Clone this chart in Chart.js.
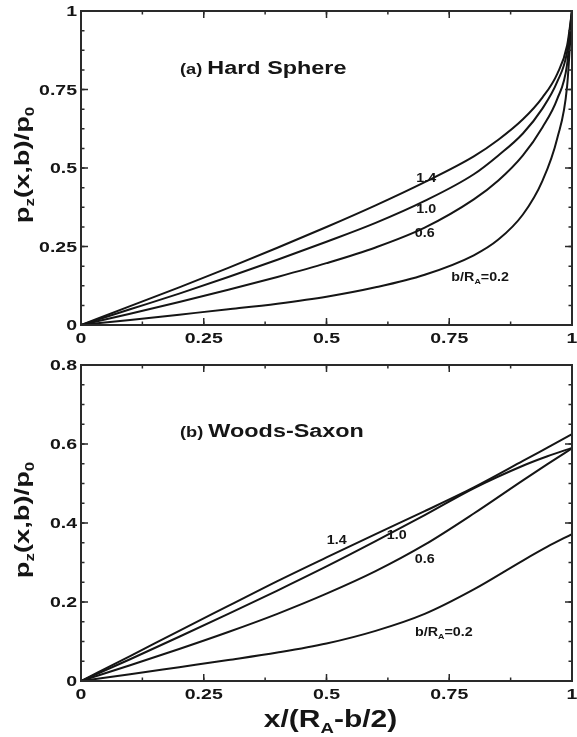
<!DOCTYPE html>
<html><head><meta charset="utf-8">
<script src="https://cdn.jsdelivr.net/npm/chart.js@4"></script>
<style>
html,body{margin:0;padding:0;background:#fff;}
#wrap{position:relative;width:577px;height:737px;overflow:hidden;}
.panel{position:absolute;left:0;width:577px;}
canvas{display:block;}
</style></head><body>
<div id="wrap">
<div class="panel" style="top:0;height:345px"><canvas id="ca" width="577" height="345"></canvas></div>
<div class="panel" style="top:345px;height:392px"><canvas id="cb" width="577" height="392"></canvas></div>
</div>
<script>
// ---------- data ----------
// (a) Hard Sphere
const xHS   = [0, 0.1, 0.2, 0.3, 0.4, 0.5, 0.6, 0.7, 0.8, 0.85, 0.9, 0.94, 0.97, 0.99, 1];
const hs14  = [0, 0.06, 0.12, 0.182, 0.246, 0.312, 0.381, 0.455, 0.537, 0.59, 0.655, 0.725, 0.80, 0.89, 1];
const hs10  = [0, 0.05, 0.10, 0.153, 0.208, 0.265, 0.325, 0.395, 0.48, 0.54, 0.61, 0.69, 0.775, 0.87, 1];
const hs06  = [0, 0.036, 0.073, 0.112, 0.153, 0.197, 0.247, 0.31, 0.40, 0.46, 0.54, 0.63, 0.72, 0.83, 1];
const hs02  = [0, 0.016, 0.033, 0.05, 0.068, 0.09, 0.12, 0.16, 0.222, 0.272, 0.352, 0.46, 0.595, 0.76, 1];
// (b) Woods-Saxon
const xWS   = [0, 0.1, 0.2, 0.3, 0.4, 0.5, 0.6, 0.7, 0.8, 0.9, 0.95, 1];
const ws14  = [0, 0.063, 0.127, 0.19, 0.253, 0.313, 0.372, 0.43, 0.49, 0.557, 0.591, 0.625];
const ws10  = [0, 0.055, 0.112, 0.17, 0.229, 0.29, 0.354, 0.42, 0.488, 0.545, 0.569, 0.59];
const ws06  = [0, 0.04, 0.081, 0.124, 0.17, 0.221, 0.278, 0.345, 0.424, 0.508, 0.549, 0.589];
const ws02  = [0, 0.017, 0.035, 0.053, 0.072, 0.095, 0.127, 0.17, 0.232, 0.305, 0.34, 0.372];
// tick labels
const xTickLabels  = ['0', '0.25', '0.5', '0.75', '1'];
const yTickLabelsA = ['0', '0.25', '0.5', '0.75', '1'];
const yTickLabelsB = ['0', '0.2', '0.4', '0.6', '0.8'];
// curve labels [text segments, x, y]
const curveLabelsA = [
  [[['1.4']], 0.703, 0.470],
  [[['1.0']], 0.703, 0.373],
  [[['0.6']], 0.700, 0.295],
  [[['b/R'], ['A', 1], ['=0.2']], 0.813, 0.156]
];
const curveLabelsB = [
  [[['1.4']], 0.521, 0.358],
  [[['1.0']], 0.643, 0.372],
  [[['0.6']], 0.700, 0.311],
  [[['b/R'], ['A', 1], ['=0.2']], 0.739, 0.127]
];

// ---------- drawing helpers ----------
const FONT = '"Liberation Sans", Arial, Helvetica, sans-serif';
const INK = '#151515';
function drawRich(ctx, segs, x, y, size, sx, align, rot) {
  ctx.save();
  ctx.translate(x, y);
  if (rot) ctx.rotate(rot);
  ctx.scale(sx, 1);
  const parts = [];
  let total = 0;
  for (const s of segs) {
    const t = s[0], sub = s[1] === 1, small = s[1] === 2;
    const fs = sub ? size * 0.62 : (small ? size * 0.78 : size);
    ctx.font = 'bold ' + fs + 'px ' + FONT;
    const w = ctx.measureText(t).width;
    parts.push({ t, fs, w, dy: sub ? size * 0.26 : 0 });
    total += w;
  }
  let cx = align === 'center' ? -total / 2 : (align === 'right' ? -total : 0);
  ctx.textAlign = 'left';
  ctx.textBaseline = 'alphabetic';
  ctx.fillStyle = INK;
  for (const p of parts) {
    ctx.font = 'bold ' + p.fs + 'px ' + FONT;
    ctx.fillText(p.t, cx, p.dy);
    cx += p.w;
  }
  ctx.restore();
}

function makeDecor(cfg) {
  return {
    id: 'decor',
    afterDraw(chart) {
      const ctx = chart.ctx, a = chart.chartArea;
      const xs = chart.scales.x, ys = chart.scales.y;
      ctx.save();
      ctx.strokeStyle = '#2a2a2a';
      ctx.lineWidth = 1.5;
      const tick = (px, isX, len) => {
        ctx.beginPath();
        if (isX) {
          ctx.moveTo(px, a.bottom); ctx.lineTo(px, a.bottom - len);
          ctx.moveTo(px, a.top); ctx.lineTo(px, a.top + len);
        } else {
          ctx.moveTo(a.left, px); ctx.lineTo(a.left + len, px);
          ctx.moveTo(a.right, px); ctx.lineTo(a.right - len, px);
        }
        ctx.stroke();
      };
      for (let v = xs.min; v <= xs.max + 1e-9; v += cfg.xMinor) tick(xs.getPixelForValue(v), true, 3.5);
      for (let v = ys.min; v <= ys.max + 1e-9; v += cfg.yMinor) tick(ys.getPixelForValue(v), false, 3.5);
      xs.ticks.forEach(t => tick(xs.getPixelForValue(t.value), true, 7));
      ys.ticks.forEach(t => tick(ys.getPixelForValue(t.value), false, 7));
      ctx.lineWidth = 2;
      ctx.strokeRect(a.left, a.top, a.right - a.left, a.bottom - a.top);
      ctx.restore();

      const TS = 15, SX = 1.3;
      xs.ticks.forEach((t, i) => {
        drawRich(ctx, [[cfg.xLabels[i]]], xs.getPixelForValue(t.value), a.bottom + 7 + TS * 0.72, TS, SX, 'center');
      });
      ys.ticks.forEach((t, i) => {
        drawRich(ctx, [[cfg.yLabels[i]]], a.left - 4, ys.getPixelForValue(t.value) + TS * 0.36, TS, SX, 'right');
      });
      drawRich(ctx, [['p'], ['z', 1], ['(x,b)/p'], ['0', 1]], 29, (a.top + a.bottom) / 2 - 3, 21, 1.3, 'center', -Math.PI / 2);
      drawRich(ctx, cfg.panel, xs.getPixelForValue(cfg.panelX), ys.getPixelForValue(cfg.panelY), 18, 1.3, 'left');
      cfg.curveLabels.forEach(l => {
        drawRich(ctx, l[0], xs.getPixelForValue(l[1]), ys.getPixelForValue(l[2]) + 13 * 0.36, 13, 1.1, 'center');
      });
      if (cfg.xTitle) {
        drawRich(ctx, [['x/(R'], ['A', 1], ['-b/2)']], (a.left + a.right) / 2 + 4, a.bottom + 46, 24, 1.25, 'center');
      }
    }
  };
}

function ds(xv, yv) {
  return {
    data: xv.map((x, i) => ({ x, y: yv[i] })),
    borderColor: INK, borderWidth: 2, pointRadius: 0,
    cubicInterpolationMode: 'monotone', fill: false
  };
}

function makeChart(id, sets, yMax, yStep, pad, xH, cfg) {
  return new Chart(document.getElementById(id), {
    type: 'line',
    data: { datasets: sets },
    options: {
      responsive: false, animation: false, devicePixelRatio: 1,
      layout: { padding: pad },
      plugins: { legend: { display: false }, tooltip: { enabled: false } },
      scales: {
        x: {
          type: 'linear', min: 0, max: 1,
          ticks: { stepSize: 0.25, display: false },
          grid: { display: false }, border: { display: false },
          afterFit: s => { s.height = xH; }
        },
        y: {
          type: 'linear', min: 0, max: yMax,
          ticks: { stepSize: yStep, display: false },
          grid: { display: false }, border: { display: false },
          afterFit: s => { s.width = 81; }
        }
      }
    },
    plugins: [makeDecor(cfg)]
  });
}

makeChart('ca', [ds(xHS, hs14), ds(xHS, hs10), ds(xHS, hs06), ds(xHS, hs02)], 1, 0.25,
  { left: 0, right: 5, top: 11, bottom: 0 }, 20,
  { xMinor: 0.125, yMinor: 0.0625, xLabels: xTickLabels, yLabels: yTickLabelsA,
    panel: [['(a) ', 2], ['Hard Sphere']], panelX: 0.2016, panelY: 0.80,
    curveLabels: curveLabelsA, xTitle: false });

makeChart('cb', [ds(xWS, ws14), ds(xWS, ws10), ds(xWS, ws06), ds(xWS, ws02)], 0.8, 0.2,
  { left: 0, right: 5, top: 20, bottom: 0 }, 56,
  { xMinor: 0.125, yMinor: 0.05, xLabels: xTickLabels, yLabels: yTickLabelsB,
    panel: [['(b) ', 2], ['Woods-Saxon']], panelX: 0.2016, panelY: 0.618,
    curveLabels: curveLabelsB, xTitle: true });
</script>
</body></html>
